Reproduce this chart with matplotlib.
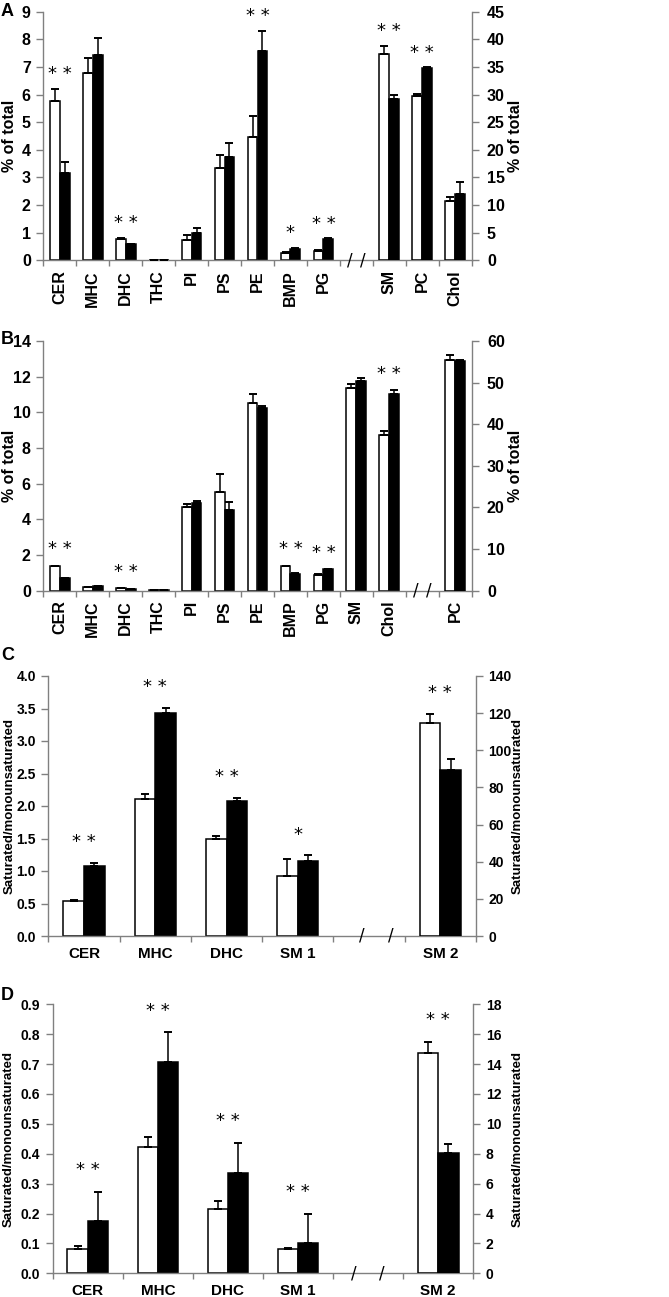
import matplotlib
matplotlib.use('Agg')
import matplotlib.pyplot as plt
import numpy as np

plt.rcParams['font.family'] = ['Liberation Sans', 'DejaVu Sans']
plt.rcParams['font.weight'] = 'bold'

# ---------------- Panel A ----------------
a_left_cats = ['CER', 'MHC', 'DHC', 'THC', 'PI', 'PS', 'PE', 'BMP', 'PG']
a_left_white = [5.77, 6.77, 0.77, 0.02, 0.74, 3.35, 4.48, 0.28, 0.34]
a_left_white_err = [0.42, 0.55, 0.05, 0.0, 0.19, 0.45, 0.76, 0.02, 0.02]
a_left_black = [3.15, 7.45, 0.58, 0.02, 0.98, 3.73, 7.58, 0.42, 0.77]
a_left_black_err = [0.40, 0.58, 0.02, 0.0, 0.19, 0.53, 0.71, 0.02, 0.02]
a_left_stars = ['**', '', '**', '', '', '', '**', '*', '**']
a_right_cats = ['SM', 'PC', 'Chol']
a_right_white = [37.4, 29.8, 10.8]
a_right_white_err = [1.4, 0.3, 0.7]
a_right_black = [29.2, 34.8, 12.0]
a_right_black_err = [0.8, 0.1, 2.1]
a_right_stars = ['**', '**', '']

# ---------------- Panel B ----------------
b_left_cats = ['CER', 'MHC', 'DHC', 'THC', 'PI', 'PS', 'PE', 'BMP', 'PG', 'SM', 'Chol']
b_left_white = [1.37, 0.21, 0.12, 0.01, 4.70, 5.52, 10.52, 1.37, 0.88, 11.35, 8.75]
b_left_white_err = [0.03, 0.01, 0.01, 0.0, 0.15, 1.02, 0.49, 0.03, 0.02, 0.22, 0.21]
b_left_black = [0.69, 0.24, 0.07, 0.01, 4.91, 4.53, 10.22, 0.94, 1.18, 11.78, 11.01]
b_left_black_err = [0.02, 0.01, 0.01, 0.0, 0.13, 0.43, 0.12, 0.02, 0.02, 0.15, 0.23]
b_left_stars = ['**', '', '**', '', '', '', '', '**', '**', '', '**']
b_right_cats = ['PC']
b_right_white = [55.5]
b_right_white_err = [1.1]
b_right_black = [55.2]
b_right_black_err = [0.3]
b_right_stars = ['']

# ---------------- Panel C ----------------
c_left_cats = ['CER', 'MHC', 'DHC', 'SM 1']
c_left_white = [0.54, 2.11, 1.49, 0.92]
c_left_white_err = [0.015, 0.07, 0.05, 0.26]
c_left_black = [1.07, 3.43, 2.08, 1.15]
c_left_black_err = [0.06, 0.08, 0.05, 0.09]
c_left_stars = ['**', '**', '**', '*']
c_right_cats = ['SM 2']
c_right_white = [114.5]
c_right_white_err = [4.9]
c_right_black = [89.4]
c_right_black_err = [6.1]
c_right_stars = ['**']

# ---------------- Panel D ----------------
d_left_cats = ['CER', 'MHC', 'DHC', 'SM 1']
d_left_white = [0.080, 0.422, 0.214, 0.080]
d_left_white_err = [0.011, 0.035, 0.029, 0.005]
d_left_black = [0.174, 0.708, 0.337, 0.100]
d_left_black_err = [0.099, 0.098, 0.100, 0.099]
d_left_stars = ['**', '**', '**', '**']
d_right_cats = ['SM 2']
d_right_white = [14.77]
d_right_white_err = [0.71]
d_right_black = [8.03]
d_right_black_err = [0.65]
d_right_stars = ['**']

W, H = 669, 1297
fig = plt.figure(figsize=(W / 100, H / 100), dpi=100)
GREY = '#808080'


def px_rect(left, top, right, bottom):
    return [left / W, 1 - bottom / H, (right - left) / W, (bottom - top) / H]


def draw_bars(ax, x, white, werr, black, berr, stars, ymax, bw, star_off):
    x = np.asarray(x, dtype=float)
    white = np.asarray(white); black = np.asarray(black)
    werr = np.asarray(werr); berr = np.asarray(berr)
    ax.bar(x - bw / 2, white, bw, color='white', edgecolor='black', linewidth=1.1, zorder=2)
    ax.bar(x + bw / 2, black, bw, color='black', edgecolor='black', linewidth=1.1, zorder=2)
    ax.errorbar(x - bw / 2, white, yerr=[np.zeros_like(werr), werr], fmt='none',
                ecolor='black', elinewidth=1.1, capsize=2.6, capthick=1.4, zorder=3)
    ax.errorbar(x + bw / 2, black, yerr=[np.zeros_like(berr), berr], fmt='none',
                ecolor='black', elinewidth=1.1, capsize=2.6, capthick=1.4, zorder=3)
    tops = np.maximum(white + werr, black + berr)
    for xi, t, s in zip(x, tops, stars):
        if s:
            ax.text(xi, t + star_off * ymax, ' '.join(s), ha='center', va='center',
                    fontsize=13, fontweight='normal', family='DejaVu Sans', zorder=4)


def panel(rect, letter, letter_xy, lcats, lw, lwe, lb, lbe, lstars,
          rcats, rw, rwe, rb, rbe, rstars, lmax, lstep, lfmt, rmax, rstep,
          ylabel, rot, lab_l, lab_r, ylab_size, xlab_pad, star_off, tick_size,
          rpad, slash_shift=0.0):
    ax = fig.add_axes(rect)
    ax2 = ax.twinx()
    nl, nr = len(lcats), len(rcats)
    n = nl + 1 + nr
    slots = lcats + [''] + rcats
    xl = np.arange(nl) + 0.5
    xr = np.arange(nr) + nl + 1.5
    bw = 0.3 if rot else 0.29
    ax.set_xlim(0, n)
    ax.set_ylim(0, lmax)
    ax2.set_ylim(0, rmax)
    draw_bars(ax, xl, lw, lwe, lb, lbe, lstars, lmax, bw, star_off)
    draw_bars(ax2, xr, rw, rwe, rb, rbe, rstars, rmax, bw, star_off)

    lt = np.arange(0, lmax + lstep / 2, lstep)
    ax.set_yticks(lt)
    ax.set_yticklabels([lfmt % v for v in lt])
    rt = np.arange(0, rmax + rstep / 2, rstep)
    ax2.set_yticks(rt)
    ax2.set_yticklabels(['%d' % v for v in rt])

    ax.set_xticks(np.arange(n + 1))
    ax.set_xticklabels([''] * (n + 1))
    ax.set_xticks(np.arange(n) + 0.5, minor=True)
    ax.set_xticklabels(slots, minor=True, rotation=90 if rot else 0,
                       fontsize=11.5 if rot else 11, fontweight='bold')
    ax.tick_params(axis='x', which='major', length=4, width=1, color=GREY, direction='out')
    ax.tick_params(axis='x', which='minor', length=0, pad=xlab_pad)
    ax.tick_params(axis='y', length=5, width=1, color=GREY, direction='out',
                   labelsize=tick_size, pad=4)
    ax2.tick_params(axis='y', length=5, width=1, color=GREY, direction='out',
                    labelsize=tick_size, pad=rpad)
    for lab in ax.get_yticklabels() + ax2.get_yticklabels():
        lab.set_fontweight('bold')

    for sp in ['top', 'right']:
        ax.spines[sp].set_visible(False)
    for sp in ['top', 'left', 'bottom']:
        ax2.spines[sp].set_visible(False)
    for sp in [ax.spines['left'], ax.spines['bottom'], ax2.spines['right']]:
        sp.set_color(GREY)
        sp.set_linewidth(1)

    w_px = rect[2] * W
    left_px = rect[0] * W
    ax.set_ylabel(ylabel, fontsize=ylab_size, fontweight='bold')
    ax.yaxis.set_label_coords((lab_l - left_px) / w_px, 0.5)
    ax2.set_ylabel(ylabel, fontsize=ylab_size, fontweight='bold', rotation=90)
    ax2.yaxis.set_label_coords((lab_r - left_px) / w_px, 0.5)

    # axis break marks in the gap slot
    xc = nl + 0.5 + slash_shift
    tr = ax.get_xaxis_transform()
    for dx in (-0.2, 0.2):
        ax.text(xc + dx, 0, '/', transform=tr, ha='center', va='center',
                fontsize=12, fontweight='normal', family='DejaVu Sans', clip_on=False)

    fig.text(letter_xy[0] / W, 1 - letter_xy[1] / H, letter, fontsize=13,
             fontweight='bold', ha='left', va='center')
    return ax


# label positions: x of left label's right edge, x of right label's left edge (px)
panel(px_rect(43.3, 11.7, 471.7, 260.3), 'A', (1, 12),
      a_left_cats, a_left_white, a_left_white_err, a_left_black, a_left_black_err, a_left_stars,
      a_right_cats, a_right_white, a_right_white_err, a_right_black, a_right_black_err, a_right_stars,
      9, 1, '%d', 45, 5, '% of total', True, 17, 508, 11.5, 7, 0.06, 11.5, 6)

panel(px_rect(43.3, 341, 471.7, 590.5), 'B', (1, 339),
      b_left_cats, b_left_white, b_left_white_err, b_left_black, b_left_black_err, b_left_stars,
      b_right_cats, b_right_white, b_right_white_err, b_right_black, b_right_black_err, b_right_stars,
      14, 2, '%d', 60, 10, '% of total', True, 17, 508, 11.5, 7, 0.065, 11.5, 6)

panel(px_rect(48.3, 676, 476, 936), 'C', (1, 656),
      c_left_cats, c_left_white, c_left_white_err, c_left_black, c_left_black_err, c_left_stars,
      c_right_cats, c_right_white, c_right_white_err, c_right_black, c_right_black_err, c_right_stars,
      4.0, 0.5, '%.1f', 140, 20, 'Saturated/monounsaturated', False, 16, 512, 9.5, 8, 0.08,
      10, 4, slash_shift=0.1)

panel(px_rect(52.7, 1004.3, 473.3, 1273.3), 'D', (1, 995),
      d_left_cats, d_left_white, d_left_white_err, d_left_black, d_left_black_err, d_left_stars,
      d_right_cats, d_right_white, d_right_white_err, d_right_black, d_right_black_err, d_right_stars,
      0.9, 0.1, '%.1f', 18, 2, 'Saturated/monounsaturated', False, 15, 512, 9.5, 8, 0.08,
      10, 4)

fig.savefig('out.png', dpi=100)
